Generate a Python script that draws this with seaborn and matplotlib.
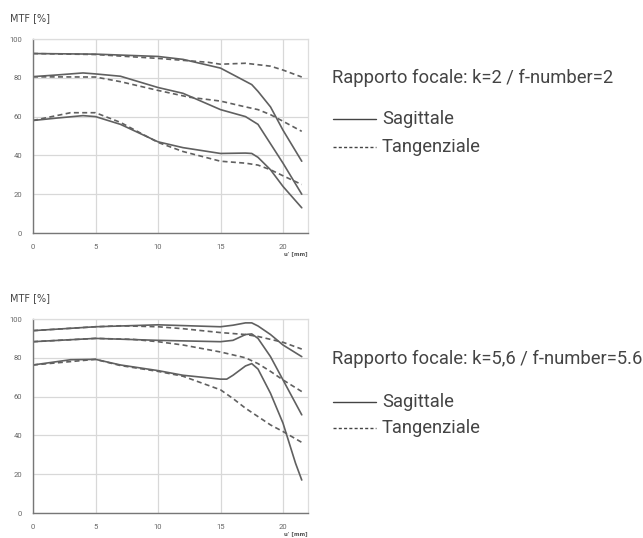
import matplotlib
matplotlib.use("Agg")
import matplotlib.pyplot as plt
from matplotlib.lines import Line2D
import seaborn as sns
import pandas as pd

sns.set_theme(style="white")
plt.rcParams['font.family'] = ['Roboto', 'DejaVu Sans']

# ---- data: panel 1 (k=2) ----
x1_s1 = [0, 5, 10, 12, 15, 16, 17.5, 18, 19, 20, 21.5]
y1_s1 = [92.5, 92.2, 91, 89.5, 85, 81.6, 76.5, 73, 65, 53, 37]
x1_t1 = [0, 5, 10, 14, 15, 17, 19, 20, 21.5]
y1_t1 = [92.5, 92, 90, 88, 87, 87.5, 86, 84, 80.4]
x1_s2 = [0, 2, 4, 5, 7, 10, 12, 15, 17, 18, 19, 20, 21.5]
y1_s2 = [80.6, 81.5, 82.5, 82, 80.8, 75, 72, 63.6, 60, 56, 46, 36, 20]
x1_t2 = [0, 5, 7, 10, 12.5, 15, 17, 18, 19, 20, 21.5]
y1_t2 = [80.5, 80.4, 78, 73.5, 70, 68, 65, 63.6, 61, 57.6, 52.4]
x1_s3 = [0, 2, 4, 5, 7, 10, 12, 15, 17, 17.5, 18, 19, 20, 21.5]
y1_s3 = [58, 59.3, 60.5, 60, 56, 47, 44, 41, 41.2, 41, 39, 32.6, 24, 13]
x1_t3 = [0, 3, 5, 7, 10, 12, 15, 17, 18, 19, 20, 21.5]
y1_t3 = [58, 62, 62, 57, 46.7, 42, 37, 36, 35, 32.6, 29.5, 25]

# ---- data: panel 2 (k=5.6) ----
x2_s1 = [0, 5, 10, 15, 16, 17, 17.5, 18, 19, 20, 21.5]
y2_s1 = [94, 96, 97, 96, 96.8, 98, 98, 96.4, 92, 86.6, 80.6]
x2_t1 = [0, 5, 7, 10, 12, 15, 17, 18, 19, 20, 21.5]
y2_t1 = [94, 96, 96.5, 96, 95, 93, 92, 91, 89.5, 88, 84.5]
x2_s2 = [0, 5, 10, 15, 16, 17, 17.5, 18, 19, 20, 21, 21.5]
y2_s2 = [88.3, 90, 89, 88.3, 89, 92, 92.3, 90, 80.6, 68.6, 56.6, 50.6]
x2_t2 = [0, 5, 8, 10, 12, 15, 17, 18, 19, 20, 21.5]
y2_t2 = [88.3, 90, 89.5, 88.3, 86.6, 83, 80, 77, 73, 68.6, 62.6]
x2_s3 = [0, 3, 5, 7, 10, 12, 15, 15.5, 16, 17, 17.5, 18, 19, 20, 21, 21.5]
y2_s3 = [76.3, 79, 79.2, 76.3, 73.4, 71, 69, 69, 71, 75.8, 77, 74.2, 61.7, 46.3, 25.7, 17]
x2_t3 = [0, 5, 7, 10, 12, 15, 16, 17, 18, 19, 20, 21.5]
y2_t3 = [76.3, 79.2, 76, 73, 70.5, 63.5, 59, 54, 49.7, 45.4, 42, 36.4]

titles = ["Rapporto focale: k=2 / f-number=2",
          "Rapporto focale: k=5,6 / f-number=5.6"]
legend_labels = ["Sagittale", "Tangenziale"]
x_ticks = [0, 5, 10, 15, 20]
y_ticks = [0, 20, 40, 60, 80, 100]

panels = [
    [(x1_s1, y1_s1, "-"), (x1_t1, y1_t1, "--"), (x1_s2, y1_s2, "-"),
     (x1_t2, y1_t2, "--"), (x1_s3, y1_s3, "-"), (x1_t3, y1_t3, "--")],
    [(x2_s1, y2_s1, "-"), (x2_t1, y2_t1, "--"), (x2_s2, y2_s2, "-"),
     (x2_t2, y2_t2, "--"), (x2_s3, y2_s3, "-"), (x2_t3, y2_t3, "--")],
]

W, H = 643, 538
fig = plt.figure(figsize=(W / 100, H / 100), dpi=100)
fig.patch.set_facecolor("white")

ax_boxes = [(33, 39, 308, 233), (33, 319, 308, 513)]
mtf_y = [18, 298]
title_y = [78, 359]
sag_y = [119, 402]
tan_y = [147, 428]

line_col = "#606060"
txt_col = "#444444"
for i, (l, t, r, b) in enumerate(ax_boxes):
    ax = fig.add_axes([l / W, 1 - b / H, (r - l) / W, (b - t) / H])
    for xs, ys, ls in panels[i]:
        line_style = "-" if ls == "-" else (0, (3, 2))
        sns.lineplot(x=xs, y=ys, ax=ax, color=line_col, linewidth=1.2,
                     linestyle=line_style, sort=True)
    ax.set_xlim(0, 22)
    ax.set_ylim(0, 100)
    ax.set_xticks(x_ticks)
    ax.set_yticks(y_ticks)
    ax.set_xticklabels([str(v) for v in x_ticks])
    ax.set_yticklabels([str(v) for v in y_ticks])
    ax.tick_params(axis="both", labelsize=5.5, colors="#666666", length=2,
                   width=0.6, pad=6)
    ax.set_xticks([2.5, 7.5, 12.5, 17.5], minor=True)
    ax.set_yticks([10, 30, 50, 70, 90], minor=True)
    ax.tick_params(axis="both", which="minor", length=2, width=0.5,
                   colors="#888888")
    ax.grid(True, which="major", color="#d8d8d8", linewidth=0.9)
    for side in ["top", "right"]:
        ax.spines[side].set_color("#dddddd")
        ax.spines[side].set_linewidth(0.9)
    for side in ["left", "bottom"]:
        ax.spines[side].set_color("#777777")
        ax.spines[side].set_linewidth(1.0)
    ax.set_xlabel("")
    ax.set_ylabel("")
    ax.text(1.0, -0.105, "u' [mm]", transform=ax.transAxes, ha="right",
            va="center", fontsize=4, fontweight="bold", color="#555555",
            family=["DejaVu Sans"])

    fig.text(10 / W, 1 - mtf_y[i] / H, "MTF [%]", fontsize=7, color="#444444",
             va="center", ha="left", family=["DejaVu Sans"])
    fig.text(332 / W, 1 - title_y[i] / H, titles[i], fontsize=13.2,
             color=txt_col, va="center", ha="left")
    fig.add_artist(Line2D([333 / W, 376 / W], [1 - sag_y[i] / H] * 2,
                          color=txt_col, linewidth=1.0, linestyle="-"))
    fig.add_artist(Line2D([333 / W, 376 / W], [1 - tan_y[i] / H] * 2,
                          color=txt_col, linewidth=1.0, linestyle=(0, (2.2, 1.6))))
    fig.text(382 / W, 1 - sag_y[i] / H, legend_labels[0], fontsize=13.2,
             color=txt_col, va="center", ha="left")
    fig.text(382 / W, 1 - tan_y[i] / H, legend_labels[1], fontsize=13.2,
             color=txt_col, va="center", ha="left")

fig.savefig("out.png", dpi=100, facecolor="white")
